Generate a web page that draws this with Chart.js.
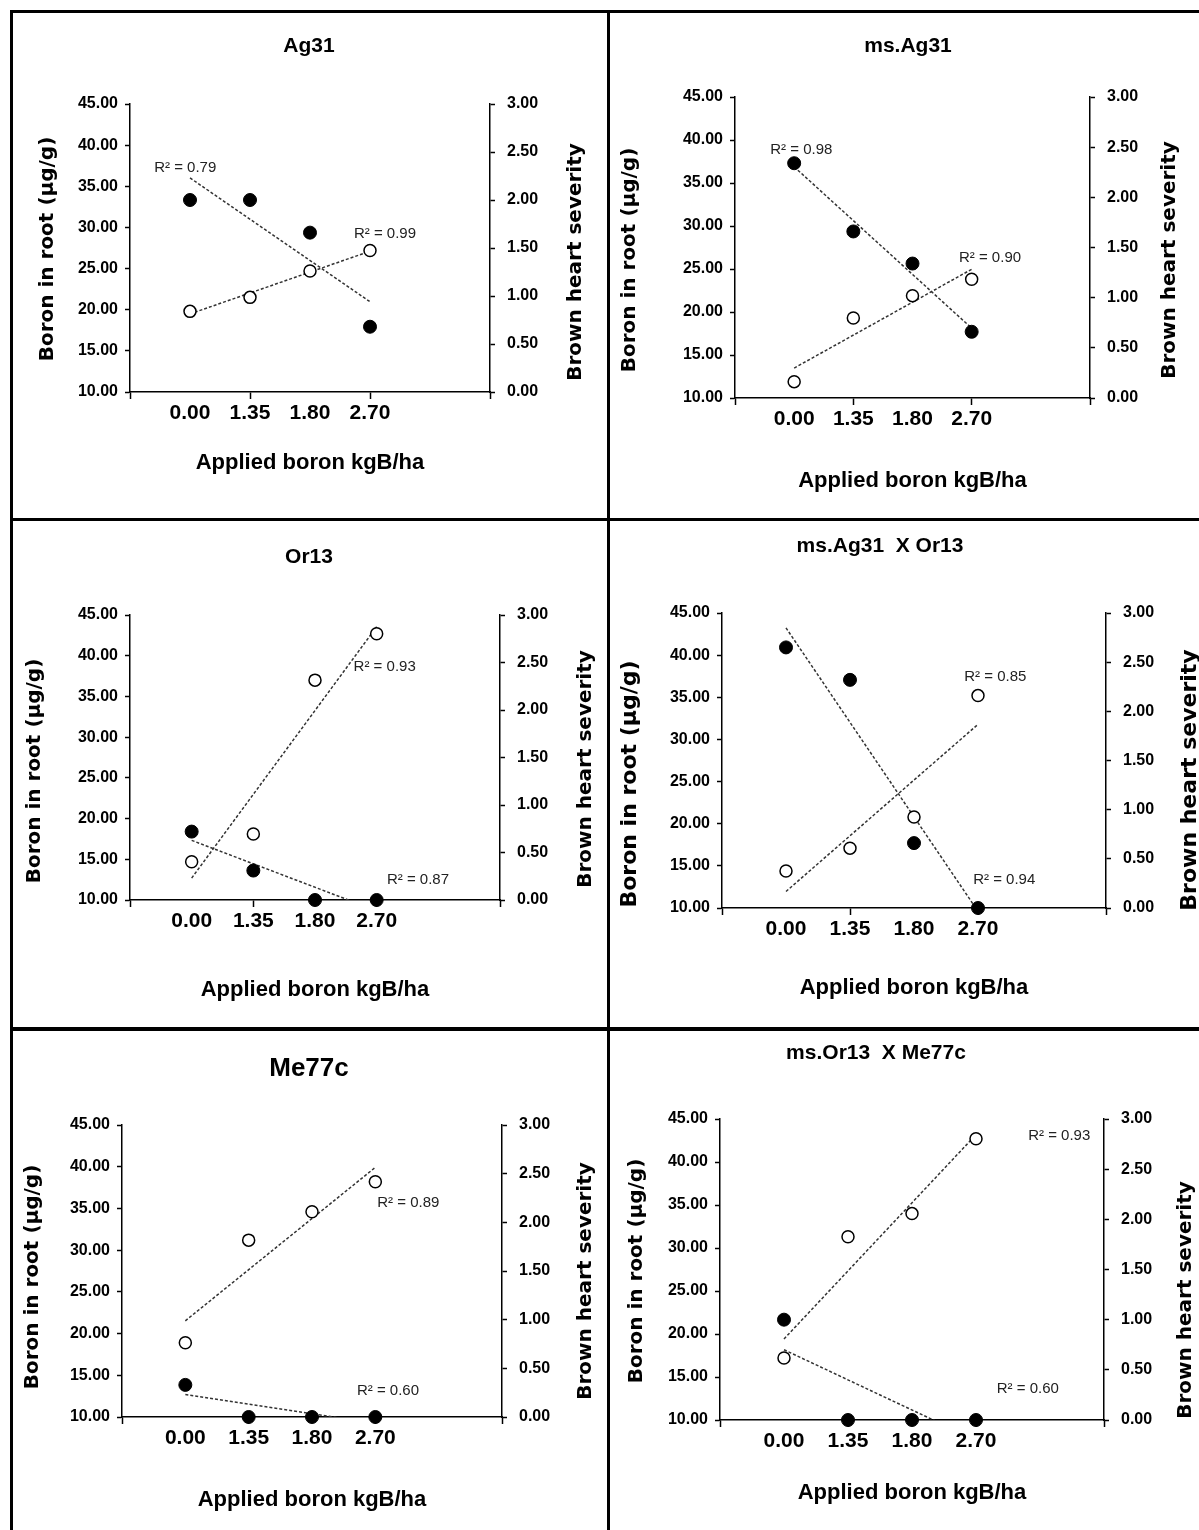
<!DOCTYPE html>
<html>
<head>
<meta charset="utf-8">
<title>Boron in root and brown heart severity</title>
<script src="https://cdn.jsdelivr.net/npm/chart.js@4.4.1/dist/chart.umd.min.js"></script>
<style>
  body { margin: 0; background: #fff; }
  #page { position: relative; width: 1199px; height: 1530px; overflow: hidden; background: #fff; }
  #page canvas { position: absolute; }
  .rule { position: absolute; background: #000; }
</style>
</head>
<body>
<div id="page">
  <div class="rule" style="left:10px;top:10px;width:1189px;height:3px"></div>
  <div class="rule" style="left:10px;top:10px;width:3px;height:1520px"></div>
  <div class="rule" style="left:607px;top:10px;width:3px;height:1520px"></div>
  <div class="rule" style="left:10px;top:518px;width:1189px;height:3px"></div>
  <div class="rule" style="left:10px;top:1027px;width:1189px;height:4px"></div>
</div>
<script>
// x categories (plotted at positions 1..4 of a 0..6 axis, as in the original)
const doseLabels = ['0.00', '1.35', '1.80', '2.70'];

// Boron in root (µg/g) - open circles, left axis
const boronAg31 = [19.8, 21.5, 24.7, 27.2];
const boronMsAg31 = [11.9, 19.3, 21.9, 23.8];
const boronOr13 = [14.7, 18.1, 37.0, 42.7];
const boronAg31xOr13 = [14.4, 17.1, 20.8, 35.2];
const boronMe77c = [18.9, 31.2, 34.6, 38.2];
const boronOr13xMe77c = [17.2, 31.3, 34.0, 42.7];

// Brown heart severity - filled circles, right axis
const severityAg31 = [2.00, 2.00, 1.66, 0.68];
const severityMsAg31 = [2.34, 1.66, 1.34, 0.66];
const severityOr13 = [0.72, 0.31, 0.00, 0.00];
const severityAg31xOr13 = [2.65, 2.32, 0.66, 0.00];
const severityMe77c = [0.33, 0.00, 0.00, 0.00];
const severityOr13xMe77c = [1.00, 0.00, 0.00, 0.00];

// R² shown on the trend lines
const r2Boron = ['0.99', '0.90', '0.93', '0.85', '0.89', '0.93'];
const r2Severity = ['0.79', '0.98', '0.87', '0.94', '0.60', '0.60'];

const panelTitles = ['Ag31', 'ms.Ag31', 'Or13', 'ms.Ag31  X Or13', 'Me77c', 'ms.Or13  X Me77c'];
const boronSeries = [boronAg31, boronMsAg31, boronOr13, boronAg31xOr13, boronMe77c, boronOr13xMe77c];
const severitySeries = [severityAg31, severityMsAg31, severityOr13, severityAg31xOr13, severityMe77c, severityOr13xMe77c];

const boronTicks = { min: 10, max: 45, step: 5 };
const severityTicks = { min: 0, max: 3, step: 0.5 };

const sans = "'Liberation Sans', Arial, sans-serif";
const wide = "'DejaVu Sans', Verdana, sans-serif";

// page layout of each panel (page pixels); r2 label spots are in axis units
const layouts = [
  { canvas: [13, 13, 594, 505], area: [130, 104, 490, 392], xTitleY: 463, yTitle: [48, 249], y2Title: [576, 262], title: [309, 46], titleSize: 21,
    r2b: [4.25, 29.2], r2s: [0.92, 37.3] },
  { canvas: [610, 13, 589, 505], area: [735, 97, 1090, 398], xTitleY: 481, yTitle: [630, 260], y2Title: [1170, 260], title: [908, 46], titleSize: 21,
    r2b: [4.31, 26.3], r2s: [1.12, 38.8] },
  { canvas: [13, 521, 594, 506], area: [130, 615, 500, 900], xTitleY: 990, yTitle: [35, 771], y2Title: [586, 769], title: [309, 557], titleSize: 21,
    r2b: [4.13, 38.6], r2s: [4.67, 12.5] },
  { canvas: [610, 521, 589, 506], area: [722, 613, 1106, 908], xTitleY: 988, yTitle: [630, 784], y2Title: [1190, 780], title: [880, 546], titleSize: 21,
    r2b: [4.27, 37.4], r2s: [4.41, 13.3] },
  { canvas: [13, 1031, 594, 499], area: [122, 1125, 502, 1417], xTitleY: 1500, yTitle: [33, 1277], y2Title: [586, 1281], title: [309, 1069], titleSize: 26,
    r2b: [4.52, 35.7], r2s: [4.2, 13.1] },
  { canvas: [610, 1031, 589, 499], area: [720, 1119, 1104, 1420], xTitleY: 1493, yTitle: [637, 1271], y2Title: [1186, 1300], title: [876, 1053], titleSize: 21,
    r2b: [5.3, 43.0], r2s: [4.81, 13.6] }
];

// least squares line over x = 1..n, returned as its two end points
function trend(values) {
  const n = values.length;
  const xs = values.map((v, i) => i + 1);
  const mx = xs.reduce((a, b) => a + b, 0) / n;
  const my = values.reduce((a, b) => a + b, 0) / n;
  let sxy = 0, sxx = 0;
  xs.forEach((x, i) => { sxy += (x - mx) * (values[i] - my); sxx += (x - mx) * (x - mx); });
  const slope = sxy / sxx;
  return [{ x: 1, y: my + slope * (1 - mx) }, { x: n, y: my + slope * (n - mx) }];
}

const panelDeco = {
  id: 'panelDeco',
  afterDraw(chart, args, o) {
    const ctx = chart.ctx;
    const ox = o.canvas[0], oy = o.canvas[1];
    ctx.save();
    ctx.fillStyle = '#000';
    ctx.textAlign = 'center';
    ctx.textBaseline = 'middle';
    ctx.font = 'bold ' + o.titleSize + 'px ' + sans;
    ctx.fillText(o.text, o.title[0] - ox, o.title[1] - oy);

    ctx.font = 'bold ' + (o.yTitleSize || 20) + 'px ' + wide;
    [['Boron in root (µg/g)', o.yTitle], ['Brown heart severity', o.y2Title]].forEach(([t, p]) => {
      ctx.save();
      ctx.translate(p[0] - ox, p[1] - oy);
      ctx.rotate(-Math.PI / 2);
      ctx.fillText(t, 0, 0);
      ctx.restore();
    });

    ctx.font = '15px ' + sans;
    ctx.fillStyle = '#222';
    const xs = chart.scales.x, ys = chart.scales.y;
    [[o.r2bText, o.r2b], [o.r2sText, o.r2s]].forEach(([t, p]) => {
      ctx.fillText('R² = ' + t, xs.getPixelForValue(p[0]), ys.getPixelForValue(p[1]));
    });
    ctx.restore();
  }
};

const page = document.getElementById('page');

layouts.forEach((lay, k) => {
  const [cx, cy, cw, ch] = lay.canvas;
  const [al, at, ar, ab] = lay.area;
  const xTitleLh = 22 * 1.2;
  const xScaleBottom = lay.xTitleY + xTitleLh / 2;

  const canvas = document.createElement('canvas');
  canvas.width = cw;
  canvas.height = ch;
  canvas.style.left = cx + 'px';
  canvas.style.top = cy + 'px';
  page.appendChild(canvas);

  const boron = boronSeries[k];
  const severity = severitySeries[k];

  new Chart(canvas, {
    type: 'scatter',
    data: {
      datasets: [
        {
          label: 'Brown heart severity',
          data: severity.map((v, i) => ({ x: i + 1, y: v })),
          yAxisID: 'y2',
          pointRadius: 6.5,
          pointBackgroundColor: '#000',
          pointBorderColor: '#000',
          pointBorderWidth: 1,
          clip: false,
          order: 1
        },
        {
          label: 'Boron in root',
          data: boron.map((v, i) => ({ x: i + 1, y: v })),
          yAxisID: 'y',
          pointRadius: 6,
          pointBackgroundColor: '#fff',
          pointBorderColor: '#000',
          pointBorderWidth: 1.5,
          clip: false,
          order: 1
        },
        {
          type: 'line',
          data: trend(severity),
          yAxisID: 'y2',
          borderColor: '#333',
          borderWidth: 1.5,
          borderDash: [3, 2],
          pointRadius: 0,
          fill: false,
          order: 2
        },
        {
          type: 'line',
          data: trend(boron),
          yAxisID: 'y',
          borderColor: '#333',
          borderWidth: 1.5,
          borderDash: [3, 2],
          pointRadius: 0,
          fill: false,
          order: 2
        }
      ]
    },
    options: {
      responsive: false,
      animation: false,
      events: [],
      layout: { padding: { left: 0, right: 0, top: at - cy, bottom: cy + ch - xScaleBottom } },
      plugins: {
        legend: { display: false },
        tooltip: { enabled: false },
        panelDeco: Object.assign({}, lay, {
          text: panelTitles[k],
          r2bText: r2Boron[k],
          r2sText: r2Severity[k],
          yTitleSize: k === 3 ? 22 : 20
        })
      },
      scales: {
        x: {
          type: 'linear',
          min: 0,
          max: 6,
          afterFit: s => { s.height = xScaleBottom - ab; },
          ticks: {
            stepSize: 1,
            autoSkip: false,
            maxRotation: 0,
            padding: 2,
            color: '#000',
            font: { family: sans, size: 21, weight: 'bold' },
            callback: v => (v >= 1 && v <= 4) ? doseLabels[Math.round(v) - 1] : ''
          },
          grid: {
            drawOnChartArea: false,
            drawTicks: true,
            tickLength: 7,
            tickWidth: 1.5,
            tickColor: c => (c.tick && Math.round(c.tick.value) % 2 === 0) ? '#000' : 'rgba(0,0,0,0)'
          },
          border: { color: '#000', width: 1.5 },
          title: {
            display: true,
            text: 'Applied boron kgB/ha',
            color: '#000',
            padding: 0,
            font: { family: sans, size: 22, weight: 'bold' }
          }
        },
        y: {
          position: 'left',
          min: boronTicks.min,
          max: boronTicks.max,
          afterFit: s => { s.width = al - cx; },
          ticks: {
            stepSize: boronTicks.step,
            padding: 7,
            color: '#000',
            font: { family: sans, size: 16, weight: 'bold' },
            callback: v => v.toFixed(2)
          },
          grid: { drawOnChartArea: false, tickLength: 5, tickWidth: 1.5, tickColor: '#000' },
          border: { color: '#000', width: 1.5 }
        },
        y2: {
          position: 'right',
          min: severityTicks.min,
          max: severityTicks.max,
          afterFit: s => { s.width = cx + cw - ar; },
          ticks: {
            stepSize: severityTicks.step,
            padding: 12,
            color: '#000',
            font: { family: sans, size: 16, weight: 'bold' },
            callback: v => v.toFixed(2)
          },
          grid: { drawOnChartArea: false, tickLength: 5, tickWidth: 1.5, tickColor: '#000' },
          border: { color: '#000', width: 1.5 }
        }
      }
    },
    plugins: [panelDeco]
  });
});
</script>
</body>
</html>
